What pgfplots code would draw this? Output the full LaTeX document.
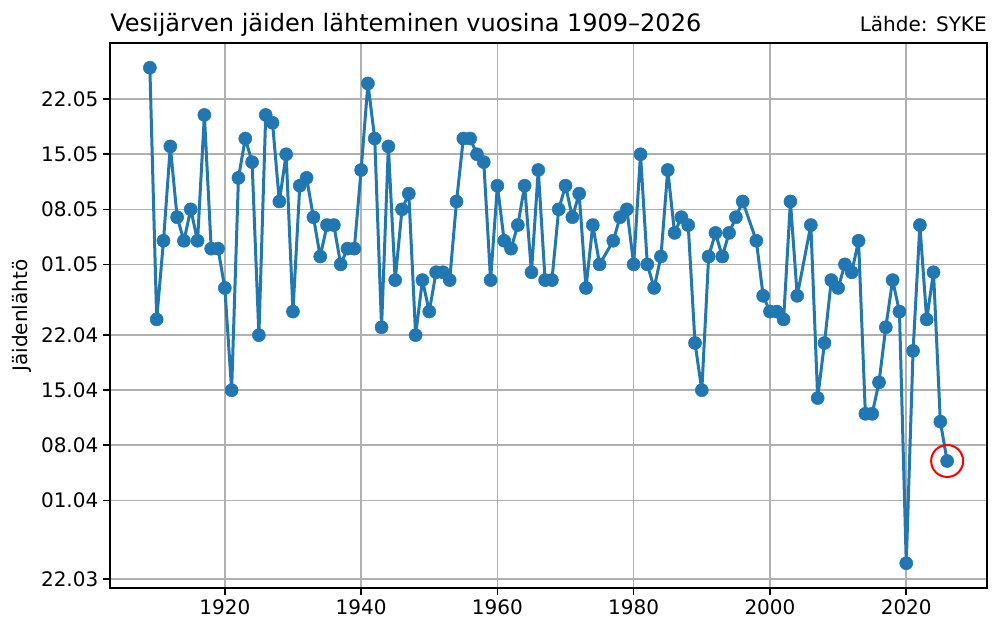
\documentclass[border=0pt]{standalone}
\usepackage{fontspec}
\setmainfont{DejaVu Sans}
\usepackage{pgfplots}
\pgfplotsset{compat=1.18}
\definecolor{mplblue}{RGB}{31,119,180}
\pgfplotstableread{
year day
1909 146
1910 114
1911 124
1912 136
1913 127
1914 124
1915 128
1916 124
1917 140
1918 123
1919 123
1920 118
1921 105
1922 132
1923 137
1924 134
1925 112
1926 140
1927 139
1928 129
1929 135
1930 115
1931 131
1932 132
1933 127
1934 122
1935 126
1936 126
1937 121
1938 123
1939 123
1940 133
1941 144
1942 137
1943 113
1944 136
1945 119
1946 128
1947 130
1948 112
1949 119
1950 115
1951 120
1952 120
1953 119
1954 129
1955 137
1956 137
1957 135
1958 134
1959 119
1960 131
1961 124
1962 123
1963 126
1964 131
1965 120
1966 133
1967 119
1968 119
1969 128
1970 131
1971 127
1972 130
1973 118
1974 126
1975 121
1977 124
1978 127
1979 128
1980 121
1981 135
1982 121
1983 118
1984 122
1985 133
1986 125
1987 127
1988 126
1989 111
1990 105
1991 122
1992 125
1993 122
1994 125
1995 127
1996 129
1998 124
1999 117
2000 115
2001 115
2002 114
2003 129
2004 117
2006 126
2007 104
2008 111
2009 119
2010 118
2011 121
2012 120
2013 124
2014 102
2015 102
2016 106
2017 113
2018 119
2019 115
2020 83
2021 110
2022 126
2023 114
2024 120
2025 101
2026 96
}\icedata
\begin{document}
\begin{tikzpicture}[x=1pt,y=1pt]
\useasboundingbox (0,0) rectangle (750,475.5);
\begin{axis}[
  at={(82.5pt,34.5pt)}, anchor=south west,
  scale only axis, width=657.75pt, height=408.75pt,
  xmin=1903.15, xmax=2031.85, ymin=79.85, ymax=149.15,
  xtick={1920,1940,...,2020},
  ytick={81,91,98,105,112,121,128,135,142},
  yticklabels={22.03,01.04,08.04,15.04,22.04,01.05,08.05,15.05,22.05},
  ylabel={Jäidenlähtö},
  grid=major, grid style={color=black!31, line width=1.2pt},
  axis line style={line width=1.2pt, black},
  tick align=outside, xtick pos=left, ytick pos=left,
  major tick length=5.25pt,
  tick style={line width=1.2pt, black},
  tick label style={font=\fontsize{15}{18}\selectfont},
  label style={font=\fontsize{15}{18}\selectfont},
  /pgf/number format/1000 sep={},
  /pgf/number format/assume math mode=true,
  clip=false,
]
\addplot[color=mplblue, line width=2.25pt, line join=round, line cap=round, mark=*, mark size=4.9pt, mark options={solid, draw=mplblue, fill=mplblue, line width=0.4pt}] table[x=year, y=day] {\icedata};
\addplot[only marks, mark=o, mark size=12pt, mark options={solid, draw=red, line width=1.5pt}] coordinates {(2026,96)};
\node[anchor=base west, font=\fontsize{18}{22}\selectfont, inner sep=0pt, yshift=8.25pt] at (rel axis cs:0,1) {Vesijärven jäiden lähteminen vuosina 1909–2026};
\node[anchor=base east, font=\fontsize{15}{18}\selectfont, inner sep=0pt, yshift=8.25pt] at (rel axis cs:1,1) {Lähde: SYKE};
\end{axis}
\end{tikzpicture}
\end{document}
